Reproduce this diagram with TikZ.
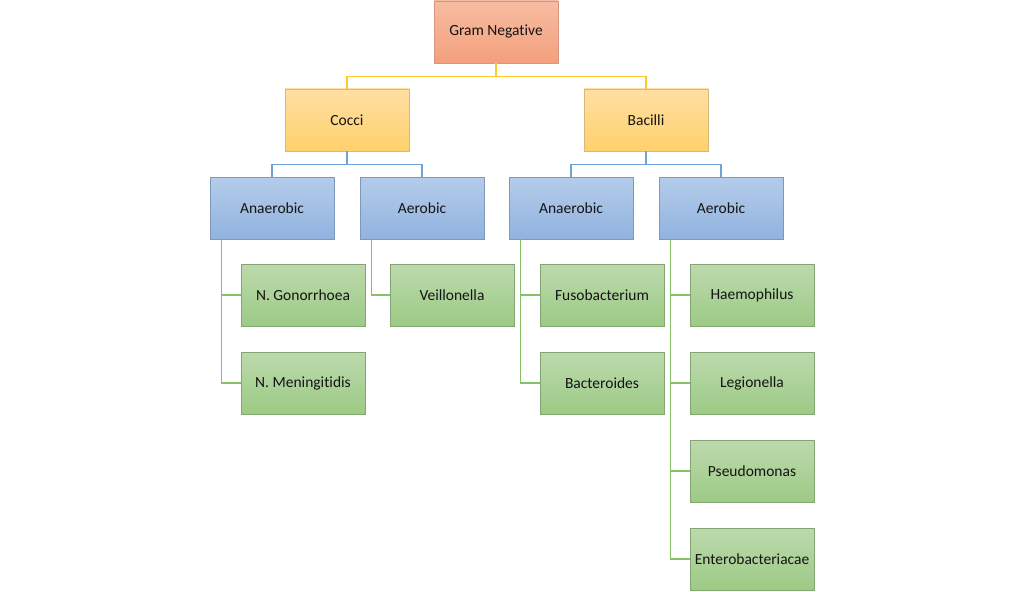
\documentclass[tikz,border=0pt]{standalone}
\usepackage{fontspec}
\setmainfont{Carlito}[Ligatures={NoCommon}]
\usetikzlibrary{positioning}
\definecolor{redtop}{HTML}{F6BCA2}
\definecolor{redbot}{HTML}{F4A07C}
\definecolor{redbd}{HTML}{D99580}
\definecolor{yeltop}{HTML}{FFDFA3}
\definecolor{yelbot}{HTML}{FFD06C}
\definecolor{yelbd}{HTML}{D6B878}
\definecolor{blutop}{HTML}{B4CCEA}
\definecolor{blubot}{HTML}{91B3E0}
\definecolor{blubd}{HTML}{7F97B8}
\definecolor{grntop}{HTML}{BCDAAD}
\definecolor{grnbot}{HTML}{9CCA84}
\definecolor{grnbd}{HTML}{84A474}
\definecolor{yline}{HTML}{FFC82E}
\definecolor{bline}{HTML}{6FA3D8}
\definecolor{gline}{HTML}{86C068}
\definecolor{txt}{HTML}{141414}
\tikzset{
  box/.style={rectangle, minimum width=124pt, minimum height=62pt, inner sep=0pt,
    font=\fontsize{15.5}{18}\selectfont, text=txt, line width=0.8pt},
  redbox/.style={box, draw=redbd, top color=redtop, bottom color=redbot},
  yelbox/.style={box, draw=yelbd, top color=yeltop, bottom color=yelbot},
  blubox/.style={box, draw=blubd, top color=blutop, bottom color=blubot},
  grnbox/.style={box, draw=grnbd, top color=grntop, bottom color=grnbot},
  yconn/.style={draw=yline, line width=1.3pt},
  bconn/.style={draw=bline, line width=1.3pt},
  gconn/.style={draw=gline, line width=1.3pt},
}
\begin{document}
\begin{tikzpicture}[x=1pt,y=-1pt]
\useasboundingbox (0,0) rectangle (1024,591);
\node[redbox] (gn) at (496,32) {Gram Negative};
\node[yelbox] (cocci) at (347,120) {Cocci};
\node[yelbox] (bac) at (646,120) {Bacilli};
\node[blubox] (can) at (272,208) {Anaerobic};
\node[blubox] (cae) at (422,208) {Aerobic};
\node[blubox] (ban) at (571,208) {Anaerobic};
\node[blubox] (bae) at (721,208) {Aerobic};
\node[grnbox] (ng) at (303,295) {N. Gonorrhoea};
\node[grnbox] (nm) at (303,383) {N. Meningitidis};
\node[grnbox] (vei) at (452,295) {Veillonella};
\node[grnbox] (fus) at (602,295) {Fusobacterium};
\node[grnbox] (bact) at (602,383) {Bacteroides};
\node[grnbox] (hae) at (752,295) {Haemophilus};
\node[grnbox] (leg) at (752,383) {Legionella};
\node[grnbox] (pse) at (752,471) {Pseudomonas};
\node[grnbox] (ent) at (752,559) {Enterobacteriacae};
% yellow connectors
\draw[yconn] (gn.south) -- ++(0,13) -| (cocci.north);
\draw[yconn] (gn.south) -- ++(0,13) -| (bac.north);
% blue connectors
\draw[bconn] (cocci.south) -- ++(0,13) -| (can.north);
\draw[bconn] (cocci.south) -- ++(0,13) -| (cae.north);
\draw[bconn] (bac.south) -- ++(0,13) -| (ban.north);
\draw[bconn] (bac.south) -- ++(0,13) -| (bae.north);
% green connectors
\draw[gconn] ([xshift=12pt]can.south west) |- (ng.west);
\draw[gconn] ([xshift=12pt]can.south west) |- (nm.west);
\draw[gconn] ([xshift=12pt]cae.south west) |- (vei.west);
\draw[gconn] ([xshift=12pt]ban.south west) |- (fus.west);
\draw[gconn] ([xshift=12pt]ban.south west) |- (bact.west);
\draw[gconn] ([xshift=12pt]bae.south west) |- (hae.west);
\draw[gconn] ([xshift=12pt]bae.south west) |- (leg.west);
\draw[gconn] ([xshift=12pt]bae.south west) |- (pse.west);
\draw[gconn] ([xshift=12pt]bae.south west) |- (ent.west);
\end{tikzpicture}
\end{document}
